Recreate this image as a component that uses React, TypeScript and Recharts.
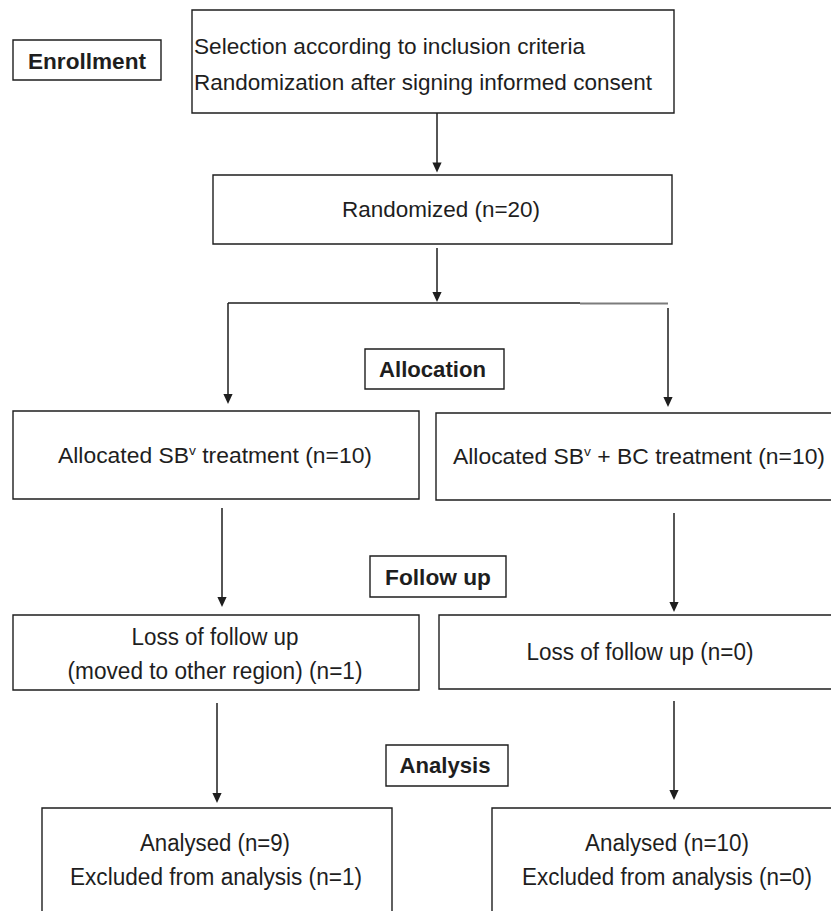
import React from 'react';
import { ScatterChart, Scatter, XAxis, YAxis, ReferenceArea, ReferenceLine } from 'recharts';

const W = 831;
const H = 911;

// ---- Flow diagram nodes (diagram units: x to the right, y downward) ----
const nodeIds = ['enroll', 'screen', 'random', 'alloc', 'armA', 'armB', 'follow', 'lossA', 'lossB', 'analysis', 'resultA', 'resultB'];
const nodeX1 = [13, 192, 213, 365, 13, 436, 370, 13, 439, 386, 42, 492];
const nodeX2 = [161, 674, 672, 504, 419, 840, 506, 419, 840, 508, 392, 840];
const nodeY1 = [40, 10, 175, 349, 411, 413, 556, 615, 615, 745, 808, 808];
const nodeY2 = [80, 113, 244, 389, 499, 500, 597, 690, 689, 786, 920, 920];

// ---- Texts ----
const textLabels = [
  'Enrollment',
  'Selection according to inclusion criteria',
  'Randomization after signing informed consent',
  'Randomized (n=20)',
  'Allocation',
  'Allocated SB^v treatment (n=10)',
  'Allocated SB^v + BC treatment (n=10)',
  'Follow up',
  'Loss of follow up',
  '(moved to other region) (n=1)',
  'Loss of follow up (n=0)',
  'Analysis',
  'Analysed (n=9)',
  'Excluded from analysis (n=1)',
  'Analysed (n=10)',
  'Excluded from analysis (n=0)',
];
const textX = [87, 194, 194, 441, 432.5, 215, 639, 438, 215, 215, 640, 445, 215, 216, 667, 667];
const textY = [61, 46, 82, 209.5, 369, 455, 456.7, 576.7, 636.7, 670.7, 651.7, 765.5, 842.7, 876.7, 842.7, 876.7];
const textWidth = [118, 391, 458, 198, 107, 314, 372, 106, 167, 295, 227, 91, 150, 292, 164, 290];
const textSize = [22, 22, 22, 22, 22, 21.5, 21.5, 22, 23, 23, 23, 22, 23, 23, 23, 23];
const boldTexts = ['Enrollment', 'Allocation', 'Follow up', 'Analysis'];
const leftAlignedTexts = [1, 2];

// ---- Connectors: [x1, y1, x2, y2] ----
const connX1 = [437, 437, 228, 580, 228, 668, 222, 674, 217, 674];
const connY1 = [113, 248, 303, 303.5, 303, 308, 508, 513, 703, 701];
const connX2 = [437, 437, 580, 668, 228, 668, 222, 674, 217, 674];
const connY2 = [172.5, 302, 303, 303.5, 404, 407, 607, 612, 803, 800];
const connArrow = [true, true, false, false, true, true, true, true, true, true];
const connGray = [false, false, false, true, false, false, false, false, false, false];

const textData = textLabels.map((label, i) => ({
  x: textX[i],
  y: textY[i],
  label,
  bold: boldTexts.includes(label),
  anchor: leftAlignedTexts.includes(i) ? 'start' : 'middle',
  width: textWidth[i],
  size: textSize[i],
}));

const tipData = connX2
  .map((x, i) => ({ x, y: connY2[i], arrow: connArrow[i] }))
  .filter((d) => d.arrow);

const FONT = "'Liberation Sans', Arial, Helvetica, sans-serif";
const INK = '#1e1e1e';

const TextShape = (props: any) => {
  const { cx, cy, payload } = props;
  if (cx == null || cy == null || !payload) return <g />;
  const fs = payload.size;
  const parts = String(payload.label).split('^v');
  const children: any[] = [];
  parts.forEach((p, i) => {
    if (i === 0) {
      children.push(<tspan key={'p' + i}>{p}</tspan>);
    } else {
      children.push(
        <tspan key={'s' + i} fontSize={13} dy={-8}>
          v
        </tspan>
      );
      children.push(
        <tspan key={'p' + i} dy={8}>
          {p}
        </tspan>
      );
    }
  });
  return (
    <text
      x={cx}
      y={cy + fs * 0.36}
      textAnchor={payload.anchor}
      fontFamily={FONT}
      fontSize={fs}
      fontWeight={payload.bold ? 700 : 400}
      fill={INK}
      textLength={payload.width}
      lengthAdjust="spacingAndGlyphs"
    >
      {children}
    </text>
  );
};

const TipShape = (props: any) => {
  const { cx, cy } = props;
  if (cx == null || cy == null) return <g />;
  const w = 4.6;
  const h = 10;
  return <path d={`M${cx - w},${cy - h} L${cx + w},${cy - h} L${cx},${cy} Z`} fill={INK} />;
};

export default function App() {
  return (
    <div style={{ position: 'absolute', left: 0, top: 0, width: W, height: H, background: '#fff' }}>
      <ScatterChart width={W} height={H} margin={{ top: 0, right: 0, bottom: 0, left: 0 }}>
        <XAxis type="number" dataKey="x" domain={[0, W]} hide allowDataOverflow />
        <YAxis type="number" dataKey="y" domain={[0, H]} reversed hide allowDataOverflow />
        {nodeIds.map((id, i) => (
          <ReferenceArea
            key={id}
            x1={nodeX1[i]}
            x2={nodeX2[i]}
            y1={nodeY1[i]}
            y2={nodeY2[i]}
            fill="none"
            fillOpacity={0}
            stroke={INK}
            strokeWidth={1.4}
            ifOverflow="visible"
          />
        ))}
        {connX1.map((x, i) => (
          <ReferenceLine
            key={'c' + i}
            segment={[
              { x, y: connY1[i] },
              { x: connX2[i], y: connArrow[i] ? connY2[i] - 8 : connY2[i] },
            ]}
            stroke={connGray[i] ? '#7c7c7c' : INK}
            strokeOpacity={1}
            strokeWidth={connGray[i] ? 2.2 : 1.5}
            ifOverflow="visible"
          />
        ))}
        <Scatter data={tipData} shape={TipShape} isAnimationActive={false} />
        <Scatter data={textData} shape={TextShape} isAnimationActive={false} />
      </ScatterChart>
    </div>
  );
}
